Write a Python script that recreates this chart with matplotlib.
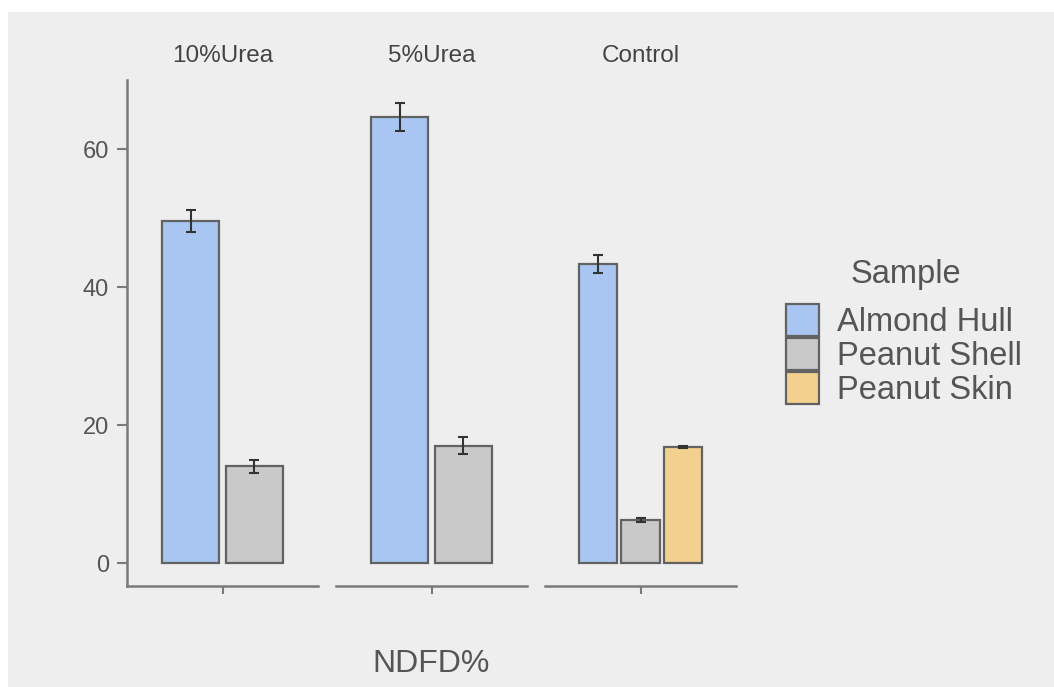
import numpy as np
import matplotlib
matplotlib.use("Agg")
import matplotlib.pyplot as plt
from matplotlib.patches import Patch, Rectangle

plt.rcParams['font.family'] = ['Liberation Sans', 'DejaVu Sans']

# NDFD% by treatment and sample type (mean and standard error)
conditions = ["10%Urea", "5%Urea", "Control"]
samples = ["Almond Hull", "Peanut Shell", "Peanut Skin"]
almond_hull = [49.6, 64.7, 43.4]
almond_hull_se = [1.55, 2.0, 1.3]
peanut_shell = [14.0, 17.0, 6.2]
peanut_shell_se = [0.9, 1.2, 0.3]
peanut_skin = [np.nan, np.nan, 16.8]
peanut_skin_se = [np.nan, np.nan, 0.15]

colors = ["#a8c6f1", "#c9c9c9", "#f2d18f"]
bg = "#eeeeee"
txt = "#555555"
axcol = "#7a7a7a"
edge = "#626262"

means = np.array([almond_hull, peanut_shell, peanut_skin])
errs = np.array([almond_hull_se, peanut_shell_se, peanut_skin_se])

W, H = 1054, 687
fig = plt.figure(figsize=(W / 100, H / 100), dpi=100, facecolor="white")
fig.patches.append(Rectangle((8 / W, 0), 1 - 8 / W, 1 - 12 / H,
                             transform=fig.transFigure, facecolor=bg,
                             edgecolor="none", zorder=-10))

top = np.nanmax(means + errs)
ylo, yhi = -0.05 * top, top * 1.05

left0, pw, step = 127, 191, 209
ybot, ytop = 586, 80
for j, cond in enumerate(conditions):
    x0 = left0 + j * step
    ax = fig.add_axes([x0 / W, (H - ybot) / H, pw / W, (ybot - ytop) / H])
    ax.set_facecolor("none")
    present = [i for i in range(len(samples)) if not np.isnan(means[i, j])]
    n = len(present)
    slot = 0.8 / n
    for k, i in enumerate(present):
        xc = -0.4 + slot * (k + 0.5)
        ax.bar(xc, means[i, j], width=slot * 0.9, color=colors[i],
               edgecolor=edge, linewidth=1.6, zorder=2)
        ax.errorbar(xc, means[i, j], yerr=errs[i, j], fmt="none",
                    ecolor="#333333", elinewidth=1.5, capsize=3.5,
                    capthick=1.5, zorder=3)
    ax.set_xlim(-0.6, 0.6)
    ax.set_ylim(ylo, yhi)
    ax.set_xticks([0])
    ax.set_xticklabels([""])
    for s in ["top", "right"]:
        ax.spines[s].set_visible(False)
    ax.spines["bottom"].set_color(axcol)
    ax.spines["bottom"].set_linewidth(1.8)
    ax.tick_params(axis="x", length=6, width=1.5, color=axcol)
    if j == 0:
        ax.spines["left"].set_color(axcol)
        ax.spines["left"].set_linewidth(1.8)
        ax.set_yticks([0, 20, 40, 60])
        ax.tick_params(axis="y", length=7, width=1.5, color=axcol,
                       labelsize=17, labelcolor=txt, pad=6)
    else:
        ax.spines["left"].set_visible(False)
        ax.set_yticks([])
    # facet strip label above each panel
    fig.text((x0 + pw / 2) / W, 1 - 56 / H, cond, ha="center", va="center",
             fontsize=17.5, color="#444444")

fig.text((left0 + (2 * step + pw) / 2) / W, 1 - 664 / H, "NDFD%",
         ha="center", va="center", fontsize=23, color=txt)

# legend: keys stacked flush, title placed above
handles = [Patch(facecolor=c, edgecolor=edge, linewidth=1.6) for c in colors]
leg = fig.legend(handles, samples, loc="upper left",
                 bbox_to_anchor=(786 / W, 1 - 304 / H), frameon=False,
                 fontsize=23.5, labelspacing=0.0,
                 handlelength=1.01, handleheight=1.14, handletextpad=0.55,
                 borderaxespad=0, borderpad=0)
for t in leg.get_texts():
    t.set_color(txt)
fig.text(906 / W, 1 - 275 / H, "Sample", ha="center", va="center",
         fontsize=23.5, color=txt)

fig.savefig("out.png", dpi=100, facecolor="white")
